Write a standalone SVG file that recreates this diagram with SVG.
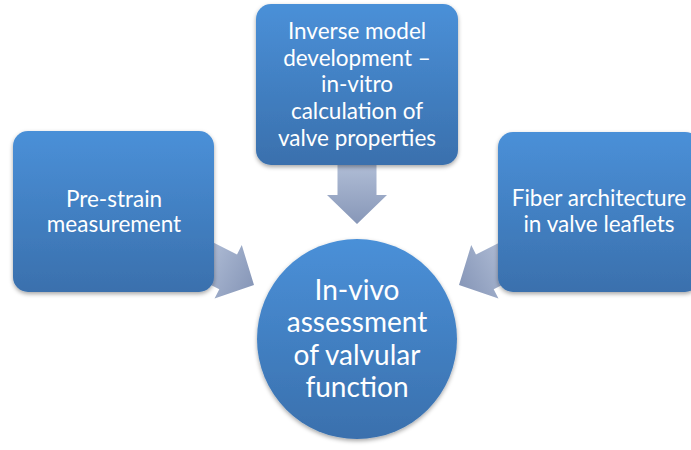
<svg xmlns="http://www.w3.org/2000/svg" width="691" height="450" viewBox="0 0 691 450">
  <defs>
    <linearGradient id="fillBlue" x1="0" y1="0" x2="0" y2="1">
      <stop offset="0" stop-color="#4a90d8"/>
      <stop offset="1" stop-color="#3a70ad"/>
    </linearGradient>
    <linearGradient id="fillArrow" x1="0" y1="0" x2="1" y2="0">
      <stop offset="0" stop-color="#b0bdd6"/>
      <stop offset="1" stop-color="#8797b8"/>
    </linearGradient>
    <filter id="shadow" x="-10%" y="-10%" width="120%" height="125%">
      <feDropShadow dx="0" dy="2" stdDeviation="2" flood-color="#000" flood-opacity="0.35"/>
    </filter>
    <!-- block arrow pointing along +x, tip at origin -->
    <path id="blockArrow" d="M-60,-19.5 L-29,-19.5 L-29,-30 L0,0 L-29,30 L-29,19.5 L-60,19.5 Z"/>
  </defs>
  <style>
    .box { fill: url(#fillBlue); filter: url(#shadow); }
    .arrow { fill: url(#fillArrow); }
    .label { fill: #ffffff; font-family: Lato, "Open Sans", "Liberation Sans", sans-serif; text-anchor: middle; }
    .small { font-size: 22.5px; }
    .big { font-size: 28px; }
  </style>

  <g id="connectors">
    <use href="#blockArrow" class="arrow" transform="translate(357,224) rotate(90)"/>
    <use href="#blockArrow" class="arrow" transform="translate(254,285) rotate(27)"/>
    <use href="#blockArrow" class="arrow" transform="translate(459,285) rotate(153)"/>
  </g>

  <g id="node-prestrain">
    <rect class="box" x="13" y="131" width="201" height="161" rx="15"/>
    <text class="label small" x="114" y="207">Pre-strain</text>
    <text class="label small" x="114" y="232">measurement</text>
  </g>

  <g id="node-inverse-model">
    <rect class="box" x="256" y="4" width="202" height="161" rx="15"/>
    <text class="label small" x="357" y="39">Inverse model</text>
    <text class="label small" x="357" y="66">development –</text>
    <text class="label small" x="357" y="92">in-vitro</text>
    <text class="label small" x="357" y="119">calculation of</text>
    <text class="label small" x="357" y="146">valve properties</text>
  </g>

  <g id="node-fiber">
    <rect class="box" x="498" y="132" width="202" height="160" rx="15"/>
    <text class="label small" x="599" y="206">Fiber architecture</text>
    <text class="label small" x="599" y="232">in valve leaflets</text>
  </g>

  <g id="node-invivo">
    <circle class="box" cx="357" cy="339" r="100"/>
    <text class="label big" x="357" y="300">In-vivo</text>
    <text class="label big" x="357" y="332">assessment</text>
    <text class="label big" x="357" y="365">of valvular</text>
    <text class="label big" x="357" y="397">function</text>
  </g>
</svg>
